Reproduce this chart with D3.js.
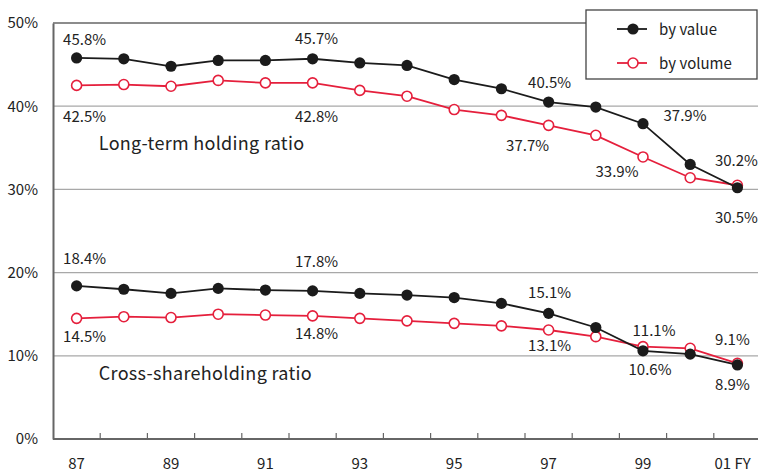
<!DOCTYPE html>
<html><head><meta charset="utf-8">
<script src="https://cdn.jsdelivr.net/npm/d3@7"></script>
<style>
body{margin:0;background:#fff;}
svg{display:block;}
text{font-family:"Noto Sans CJK JP","Noto Sans",sans-serif;fill:#222;}
</style></head>
<body><svg id="c" width="758" height="472"></svg>
<script>
const years = ["87","88","89","90","91","92","93","94","95","96","97","98","99","00","01"];
const xTickLabels = {"87":"87","89":"89","91":"91","93":"93","95":"95","97":"97","99":"99","01":"01 FY"};
const yTicks = [0,10,20,30,40,50];
const longByValue  = [45.8,45.7,44.8,45.5,45.5,45.7,45.2,44.9,43.2,42.1,40.5,39.9,37.9,33.0,30.2];
const longByVolume = [42.5,42.6,42.4,43.1,42.8,42.8,41.9,41.2,39.6,38.9,37.7,36.5,33.9,31.4,30.5];
const crossByValue  = [18.4,18.0,17.5,18.1,17.9,17.8,17.5,17.3,17.0,16.3,15.1,13.4,10.6,10.2,8.9];
const crossByVolume = [14.5,14.7,14.6,15.0,14.9,14.8,14.5,14.2,13.9,13.6,13.1,12.3,11.1,10.9,9.1];
const seriesNames = ["by value","by volume"];
// value labels: [year, label text, value of the point the label is attached to]
const valueLabels = [
  ["87","45.8%",45.8],["87","42.5%",42.5],
  ["92","45.7%",45.7],["92","42.8%",42.8],
  ["97","40.5%",40.5],["97","37.7%",37.7],
  ["99","37.9%",37.9],["99","33.9%",33.9],
  ["01","30.2%",30.5],["01","30.5%",30.2],
  ["87","18.4%",18.4],["87","14.5%",14.5],
  ["92","17.8%",17.8],["92","14.8%",14.8],
  ["97","15.1%",15.1],["97","13.1%",13.1],
  ["99","11.1%",11.1],["99","10.6%",10.6],
  ["01","9.1%",9.1],["01","8.9%",8.9]
];
const sectionTitles = [["Long-term holding ratio",34.7],["Cross-shareholding ratio",7.1]];

const svg = d3.select("#c");
const m = {l:53, r:-3, t:23, b:33};
const W = 758, H = 472;
const x = d3.scaleBand().domain(years).range([m.l, W - m.r]);
const y = d3.scaleLinear().domain([0,50]).range([H - m.b, m.t]);
const cx = d => x(d) + x.bandwidth()/2;

const black = "#1b1b1b", red = "#e51f3c", grid = "#a8a8a8", axisC = "#666";

// label nudges (pixels, relative to the attached point)
const nudge = {
  "45.8%":[8,-13], "42.5%":[8,37], "45.7%":[4,-15], "42.8%":[4,39],
  "40.5%":[1,-14], "37.7%":[-21,26], "37.9%":[42,-3], "33.9%":[-26,20],
  "30.2%":[-1,-19], "30.5%":[-1,35],
  "18.4%":[8,-22], "14.5%":[8,24], "17.8%":[4,-24], "14.8%":[4,23],
  "15.1%":[1,-15], "13.1%":[1,21], "11.1%":[11,-11], "10.6%":[7,24],
  "9.1%":[-5,-18], "8.9%":[-5,25]
};

// gridlines
svg.append("g").selectAll("line").data(yTicks.filter(v=>v>0&&v<50)).join("line")
  .attr("x1", m.l).attr("x2", W).attr("y1", d=>y(d)).attr("y2", d=>y(d))
  .attr("stroke", grid).attr("stroke-width", 1.3);
// top border
svg.append("line").attr("x1", m.l).attr("x2", 586).attr("y1", y(50)).attr("y2", y(50))
  .attr("stroke", axisC).attr("stroke-width", 1.5);

// y axis
const yAxis = d3.axisLeft(y).tickValues(yTicks).tickFormat(d=>d+"%").tickSize(0).tickPadding(15);
const gy = svg.append("g").attr("transform", `translate(${m.l},0)`).call(yAxis);
gy.select(".domain").attr("stroke", axisC).attr("stroke-width", 2);
gy.selectAll("text").attr("font-size", 15).style("font-family", "'Noto Sans CJK JP',sans-serif").attr("fill","#222");

// x axis with inward ticks at band boundaries
svg.append("line").attr("x1", m.l).attr("x2", W).attr("y1", y(0)).attr("y2", y(0))
  .attr("stroke", axisC).attr("stroke-width", 2);
svg.append("g").selectAll("line").data(years.slice(1)).join("line")
  .attr("x1", d=>x(d)).attr("x2", d=>x(d)).attr("y1", y(0)).attr("y2", y(0)-6)
  .attr("stroke", axisC).attr("stroke-width", 1.2);
svg.append("g").selectAll("text").data(years.filter(d=>xTickLabels[d])).join("text")
  .attr("x", d=> d==="01" ? cx(d)-23 : cx(d)).attr("y", y(0)+30)
  .attr("text-anchor", d=> d==="01" ? "start":"middle")
  .attr("font-size", 15).text(d=>xTickLabels[d]);

// lines
const line = d3.line().x((d,i)=>cx(years[i])).y(d=>y(d));
function drawSeries(vals, filled){
  const col = filled ? black : red;
  svg.append("path").datum(vals).attr("d", line).attr("fill","none")
    .attr("stroke", col).attr("stroke-width", 1.8);
  svg.append("g").selectAll("circle").data(vals).join("circle")
    .attr("cx", (d,i)=>cx(years[i])).attr("cy", d=>y(d))
    .attr("r", filled ? 5.6 : 5)
    .attr("fill", filled ? black : "#fff")
    .attr("stroke", col).attr("stroke-width", filled ? 0 : 1.6);
}
drawSeries(longByVolume, false);
drawSeries(longByValue, true);
drawSeries(crossByVolume, false);
drawSeries(crossByValue, true);

// value labels
svg.append("g").selectAll("text").data(valueLabels).join("text")
  .attr("x", d=> cx(d[0]) + nudge[d[1]][0])
  .attr("y", d=> y(d[2]) + nudge[d[1]][1])
  .attr("text-anchor","middle").attr("font-size", 15).text(d=>d[1]);

// section titles
svg.append("g").selectAll("text").data(sectionTitles).join("text")
  .attr("x", cx("88")-25).attr("y", d=>y(d[1]))
  .attr("font-size", 18).attr("letter-spacing", 0.3).text(d=>d[0]);

// legend
const lg = svg.append("g");
lg.append("rect").attr("x", 586).attr("y", 10).attr("width", 171).attr("height", 69)
  .attr("fill","#fff").attr("stroke","#444").attr("stroke-width",1.3);
seriesNames.forEach((n,i)=>{
  const col = i===0 ? black : red;
  const yy = 29 + i*34;
  lg.append("line").attr("x1",617).attr("x2",647).attr("y1",yy).attr("y2",yy)
    .attr("stroke",col).attr("stroke-width",1.8);
  lg.append("circle").attr("cx",633).attr("cy",yy).attr("r", i===0?5.6:5)
    .attr("fill", i===0?black:"#fff").attr("stroke",col).attr("stroke-width", i===0?0:1.6);
  lg.append("text").attr("x",659).attr("y",yy+6).attr("font-size",15).text(n);
});
</script></body></html>
